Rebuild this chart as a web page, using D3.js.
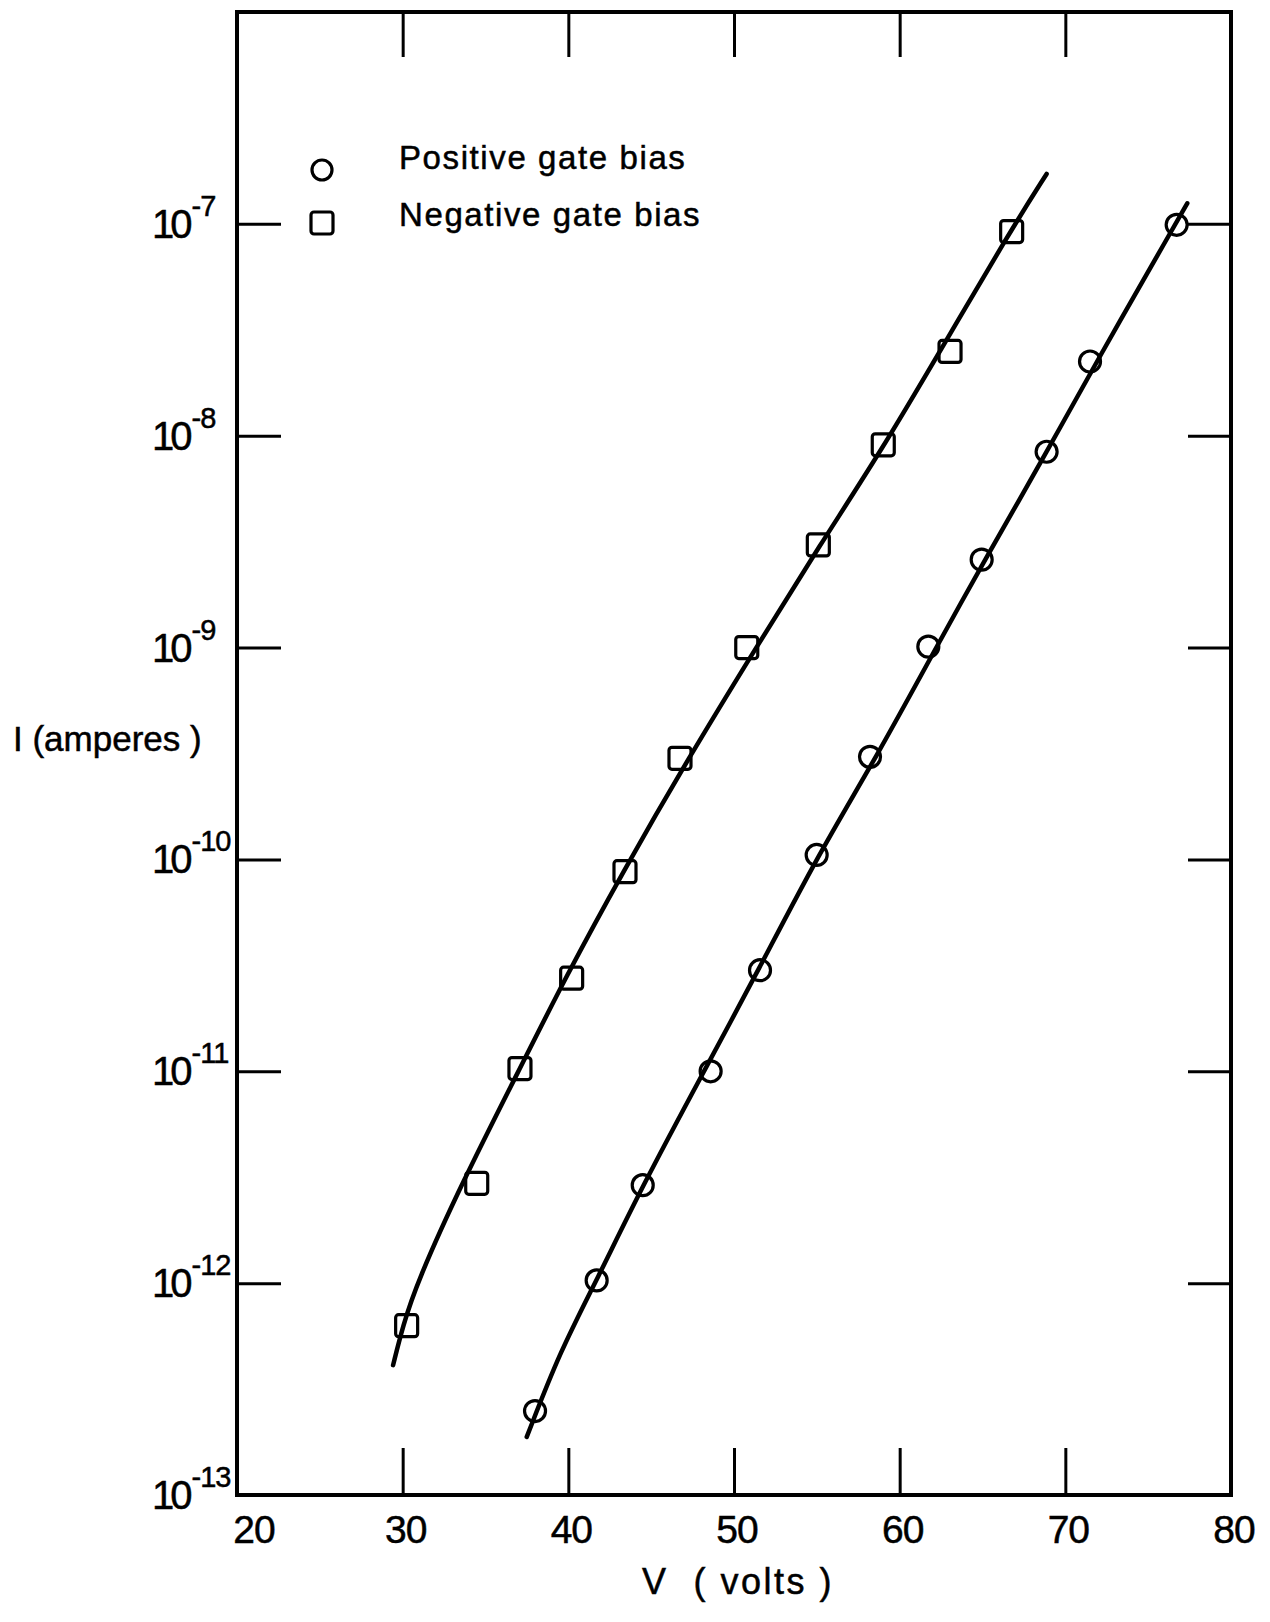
<!DOCTYPE html>
<html>
<head>
<meta charset="utf-8">
<script src="https://cdn.jsdelivr.net/npm/d3@7"></script>
<style>
  body { margin: 0; background: #fff; }
  svg text { font-family: "Liberation Sans", Arial, sans-serif; fill: #000; stroke: #000; stroke-width: 0.5; }
</style>
</head>
<body>
<svg id="chart" width="1270" height="1622"></svg>
<script>
const posV = [37.99, 41.71, 44.49, 48.59, 51.57, 54.99, 58.21, 61.73, 64.95, 68.87, 71.49, 76.72];
const posI = [2.49e-13, 1.03e-12, 2.9e-12, 1.0e-11, 3.0e-11, 1.05e-10, 3.05e-10, 1.01e-9, 2.6e-9, 8.4e-9, 2.24e-8, 9.9e-8];
const negV = [30.24, 34.47, 37.08, 40.2, 43.42, 46.74, 50.77, 55.09, 59.01, 63.04, 66.76];
const negI = [6.3e-13, 2.96e-12, 1.03e-11, 2.75e-11, 8.75e-11, 3.0e-10, 1.0e-9, 3.05e-9, 9.06e-9, 2.5e-8, 9.2e-8];

// hand drawn fit curves
const posFitV = [37.49, 39.53, 41.71, 44.49, 48.19, 51.47, 55.07, 58.61, 62.23, 65.15, 68.89, 71.89, 76.62, 77.36];
const posFitI = [1.88e-13, 4.83e-13, 1.03e-12, 2.9e-12, 1.0e-11, 3.0e-11, 1.05e-10, 3.05e-10, 1.01e-9, 2.6e-9, 8.4e-9, 2.24e-8, 9.9e-8, 1.25e-7];
const negFitV = [29.42, 30.02, 30.85, 33.56, 37.08, 39.8, 43.3, 47.24, 51.37, 55.19, 58.81, 62.43, 66.66, 68.87];
const negFitI = [4.1e-13, 6.3e-13, 1.0e-12, 2.96e-12, 1.03e-11, 2.75e-11, 8.75e-11, 3.0e-10, 1.01e-9, 3.05e-9, 8.3e-9, 2.5e-8, 9.2e-8, 1.72e-7];

// axes
const xTicks = [20, 30, 40, 50, 60, 70, 80];
const xInner = [30, 40, 50, 60, 70];
const yExps = [-7, -8, -9, -10, -11, -12, -13];
const yInner = [1e-7, 1e-8, 1e-9, 1e-10, 1e-11, 1e-12];

const svg = d3.select('#chart');

svg.append('rect')
  .attr('width', 1270)
  .attr('height', 1622)
  .attr('fill', '#fff');

const x = d3.scaleLinear().domain([20, 80]).range([237, 1231]);
const y = d3.scaleLog().domain([1e-13, 1e-6]).range([1495, 12]);

// frame
svg.append('rect')
  .attr('x', x(20))
  .attr('y', y(1e-6))
  .attr('width', x(80) - x(20))
  .attr('height', y(1e-13) - y(1e-6))
  .attr('fill', 'none')
  .attr('stroke', '#000')
  .attr('stroke-width', 4);

// inward ticks on all four sides
function tickStyle(g) {
  g.select('.domain').remove();
  g.selectAll('.tick line').attr('stroke', '#000').attr('stroke-width', 3);
  g.selectAll('.tick text').remove();
}

svg.append('g')
  .attr('transform', `translate(0,${y(1e-13)})`)
  .call(d3.axisBottom(x).tickValues(xInner).tickSize(-47))
  .call(tickStyle);

svg.append('g')
  .attr('transform', `translate(0,${y(1e-6)})`)
  .call(d3.axisTop(x).tickValues(xInner).tickSize(-45))
  .call(tickStyle);

svg.append('g')
  .attr('transform', `translate(${x(20)},0)`)
  .call(d3.axisLeft(y).tickValues(yInner).tickSize(-44))
  .call(tickStyle);

svg.append('g')
  .attr('transform', `translate(${x(80)},0)`)
  .call(d3.axisRight(y).tickValues(yInner).tickSize(-43))
  .call(tickStyle);

// x tick labels
svg.append('g')
  .selectAll('text')
  .data(xTicks)
  .join('text')
  .attr('x', d => x(d) + (d === 20 ? 17 : 3))
  .attr('y', 1543)
  .attr('text-anchor', 'middle')
  .attr('font-size', 39)
  .attr('letter-spacing', -1)
  .text(d => d);

// y tick labels, 10 with superscript exponent
const yLab = svg.append('g')
  .selectAll('text')
  .data(yExps)
  .join('text')
  .attr('x', 152)
  .attr('y', d => y(Math.pow(10, d)) + 14)
  .attr('font-size', 40);

yLab.append('tspan')
  .attr('letter-spacing', -4)
  .text('10');

yLab.append('tspan')
  .attr('dx', 3)
  .attr('dy', -22)
  .attr('font-size', 29)
  .attr('letter-spacing', -1)
  .text(d => d);

// axis titles
svg.append('text')
  .attr('x', 13)
  .attr('y', 751)
  .attr('font-size', 35)
  .text('I (amperes )');

svg.append('text')
  .attr('x', 738)
  .attr('y', 1594)
  .attr('text-anchor', 'middle')
  .attr('font-size', 36)
  .attr('letter-spacing', 2.5)
  .attr('xml:space', 'preserve')
  .text('V  ( volts )');

// fit curves
const line = d3.line()
  .x(d => x(d[0]))
  .y(d => y(d[1]))
  .curve(d3.curveBasis);

const curves = [d3.zip(negFitV, negFitI), d3.zip(posFitV, posFitI)];

svg.append('g')
  .selectAll('path')
  .data(curves)
  .join('path')
  .attr('d', line)
  .attr('fill', 'none')
  .attr('stroke', '#000')
  .attr('stroke-width', 4.5)
  .attr('stroke-linecap', 'round');

// markers
svg.append('g')
  .selectAll('circle')
  .data(d3.zip(posV, posI))
  .join('circle')
  .attr('cx', d => x(d[0]))
  .attr('cy', d => y(d[1]))
  .attr('r', 10.5)
  .attr('fill', 'none')
  .attr('stroke', '#000')
  .attr('stroke-width', 3.2);

const sq = 22;
svg.append('g')
  .selectAll('rect')
  .data(d3.zip(negV, negI))
  .join('rect')
  .attr('x', d => x(d[0]) - sq / 2)
  .attr('y', d => y(d[1]) - sq / 2)
  .attr('width', sq)
  .attr('height', sq)
  .attr('rx', 3)
  .attr('fill', 'none')
  .attr('stroke', '#000')
  .attr('stroke-width', 3.2);

// legend
const legend = svg.append('g');

legend.append('circle')
  .attr('cx', 322)
  .attr('cy', 170)
  .attr('r', 10)
  .attr('fill', 'none')
  .attr('stroke', '#000')
  .attr('stroke-width', 3.2);

legend.append('rect')
  .attr('x', 322 - 11)
  .attr('y', 223 - 11)
  .attr('width', 22)
  .attr('height', 22)
  .attr('rx', 3)
  .attr('fill', 'none')
  .attr('stroke', '#000')
  .attr('stroke-width', 3.2);

legend.append('text')
  .attr('x', 399)
  .attr('y', 169)
  .attr('font-size', 33)
  .attr('letter-spacing', 1.6)
  .text('Positive gate bias');

legend.append('text')
  .attr('x', 399)
  .attr('y', 226)
  .attr('font-size', 33)
  .attr('letter-spacing', 1.6)
  .text('Negative gate bias');
</script>
</body>
</html>
